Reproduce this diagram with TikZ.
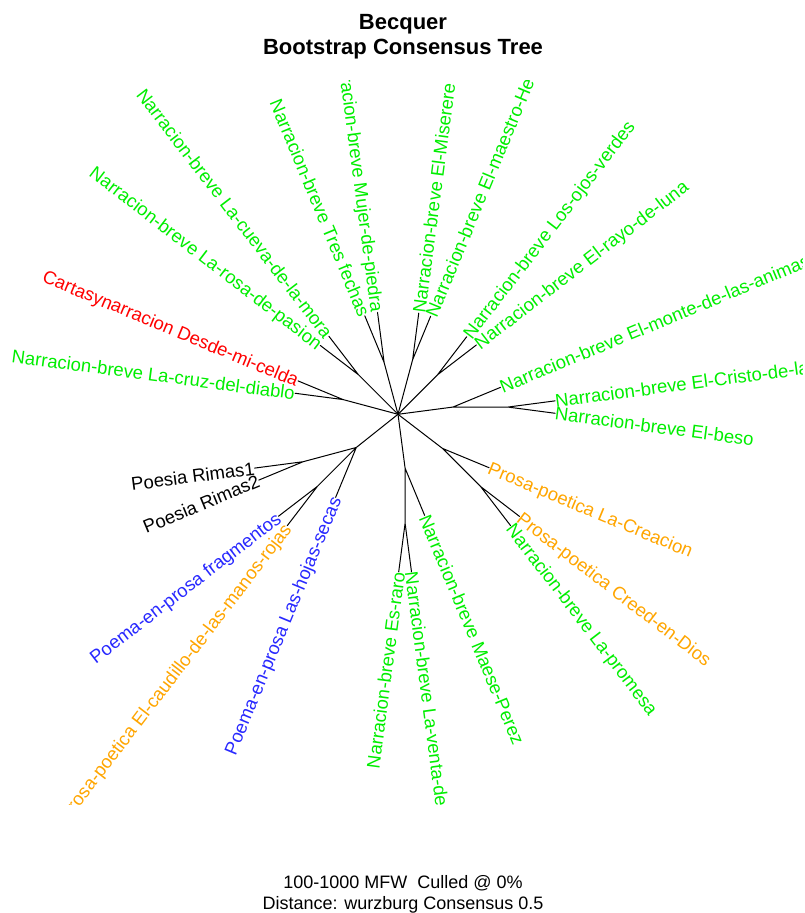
\documentclass[tikz,border=0pt]{standalone}
\usepackage{fontspec}
\setmainfont{Liberation Sans}
\usetikzlibrary{calc}
\definecolor{lgreen}{RGB}{0,238,0}
\definecolor{lblue}{RGB}{40,40,255}
\definecolor{lorange}{RGB}{255,165,0}
\definecolor{lred}{RGB}{255,0,0}
\newcommand\lblfont{\fontsize{18.46}{22}\selectfont}
\newcommand\ttlfont{\fontsize{22}{26}\selectfont\bfseries}
\newcommand\subfont{\fontsize{18}{22}\selectfont}
\begin{document}
\begin{tikzpicture}[x=1pt,y=1pt,
  edge/.style={line width=1pt, black, line cap=round},
  lbl/.style={inner sep=0pt, font=\lblfont, text height=13.2pt, text depth=0pt},
  lblR/.style={lbl, anchor=west},
  lblL/.style={lbl, anchor=east},
  ttl/.style={inner sep=0pt, font=\ttlfont, anchor=base},
  subt/.style={inner sep=0pt, font=\subfont, anchor=base}]
\useasboundingbox (0,0) rectangle (805,913);
% ---- tree coordinates ----
\coordinate (O) at (398,498.7);
\coordinate (nA) at ($(O)+(7.5:55.4)$);
\coordinate (tMonte) at ($(nA)+(22.5:51.5)$);
\coordinate (nAA) at ($(nA)+(0:55)$);
\coordinate (tCristo) at ($(nAA)+(7.5:47.6)$);
\coordinate (tBeso) at ($(nAA)+(-7.5:47.6)$);
\coordinate (nB) at ($(O)+(45:55.9)$);
\coordinate (tOjos) at ($(nB)+(52.5:48)$);
\coordinate (tRayo) at ($(nB)+(37.5:49)$);
\coordinate (nC) at ($(O)+(75:56.5)$);
\coordinate (tMaestro) at ($(nC)+(67.5:47)$);
\coordinate (tMiserere) at ($(nC)+(82.5:47)$);
\coordinate (nD) at ($(O)+(105:53.6)$);
\coordinate (tMujer) at ($(nD)+(97.5:50.5)$);
\coordinate (tTres) at ($(nD)+(112.5:50.5)$);
\coordinate (nE) at ($(O)+(135:56)$);
\coordinate (tCueva) at ($(nE)+(127.5:48.5)$);
\coordinate (tRosa) at ($(nE)+(142.5:48)$);
\coordinate (nF) at ($(O)+(165:56.8)$);
\coordinate (tCelda) at ($(nF)+(157.5:48.8)$);
\coordinate (tDiablo) at ($(nF)+(172.5:48.5)$);
\coordinate (nG) at ($(O)+(218.5:53.3)$);
\coordinate (nGR) at ($(nG)+(195:55)$);
\coordinate (tRimasA) at ($(nGR)+(187.5:49)$);
\coordinate (tRimasB) at ($(nGR)+(202.5:48)$);
\coordinate (nGF) at ($(nG)+(225:55)$);
\coordinate (tFrag) at ($(nGF)+(217.5:49)$);
\coordinate (tCaud) at ($(nGF)+(232.5:49.5)$);
\coordinate (tHojas) at ($(nG)+(247.5:54)$);
\coordinate (nH) at ($(O)+(277.5:54.4)$);
\coordinate (nHH) at ($(nH)+(270:55)$);
\coordinate (tRaro) at ($(nHH)+(262.5:49)$);
\coordinate (tVenta) at ($(nHH)+(277.5:49)$);
\coordinate (tMaese) at ($(nH)+(292.5:51)$);
\coordinate (nI) at ($(O)+(322.5:56)$);
\coordinate (tCreacion) at ($(nI)+(337.5:50.5)$);
\coordinate (nII) at ($(nI)+(315:54)$);
\coordinate (tCreed) at ($(nII)+(322.5:49)$);
\coordinate (tPromesa) at ($(nII)+(307.5:49)$);
% ---- edges ----
\draw[edge] (O) -- (nA) (nA) -- (tMonte) (nA) -- (nAA) (nAA) -- (tCristo) (nAA) -- (tBeso);
\draw[edge] (O) -- (nB) (nB) -- (tOjos) (nB) -- (tRayo);
\draw[edge] (O) -- (nC) (nC) -- (tMaestro) (nC) -- (tMiserere);
\draw[edge] (O) -- (nD) (nD) -- (tMujer) (nD) -- (tTres);
\draw[edge] (O) -- (nE) (nE) -- (tCueva) (nE) -- (tRosa);
\draw[edge] (O) -- (nF) (nF) -- (tCelda) (nF) -- (tDiablo);
\draw[edge] (O) -- (nG) (nG) -- (nGR) (nGR) -- (tRimasA) (nGR) -- (tRimasB)
  (nG) -- (nGF) (nGF) -- (tFrag) (nGF) -- (tCaud) (nG) -- (tHojas);
\draw[edge] (O) -- (nH) (nH) -- (nHH) (nHH) -- (tRaro) (nHH) -- (tVenta) (nH) -- (tMaese);
\draw[edge] (O) -- (nI) (nI) -- (tCreacion) (nI) -- (nII) (nII) -- (tCreed) (nII) -- (tPromesa);
% ---- labels ----
\begin{scope}
\clip (0,108) rectangle (802,832.5);
\node[lblR, text=lgreen, rotate=7.5] (LCristo) at (tCristo) {Narracion-breve El-Cristo-de-la};
\node[lblR, text=lgreen, rotate=-7.5] (LBeso) at (tBeso) {Narracion-breve El-beso};
\node[lblR, text=lgreen, rotate=22.5] (LMonte) at (tMonte) {Narracion-breve El-monte-de-las-animas};
\node[lblR, text=lgreen, rotate=37.5] (LRayo) at (tRayo) {Narracion-breve El-rayo-de-luna};
\node[lblR, text=lgreen, rotate=52.5] (LOjos) at (tOjos) {Narracion-breve Los-ojos-verdes};
\node[lblR, text=lgreen, rotate=67.5] (LMaestro) at (tMaestro) {Narracion-breve El-maestro-He.};
\node[lblR, text=lgreen, rotate=82.5] (LMiserere) at (tMiserere) {Narracion-breve El-Miserere};
\node[lblR, text=lgreen, rotate=-82.5] (LVenta) at (tVenta) {Narracion-breve La-venta-de};
\node[lblR, text=lgreen, rotate=-67.5] (LMaese) at (tMaese) {Narracion-breve Maese-Perez};
\node[lblR, text=lgreen, rotate=-52.5] (LPromesa) at (tPromesa) {Narracion-breve La-promesa};
\node[lblR, text=lorange, rotate=-37.5] (LCreed) at (tCreed) {Prosa-poetica Creed-en-Dios};
\node[lblR, text=lorange, rotate=-22.5] (LCreacion) at (tCreacion) {Prosa-poetica La-Creacion};
\node[lblL, text=lgreen, rotate=-82.5] (LMujer) at (tMujer) {Narracion-breve Mujer-de-piedra};
\node[lblL, text=lgreen, rotate=-67.5] (LTres) at (tTres) {Narracion-breve Tres fechas};
\node[lblL, text=lgreen, rotate=-52.5] (LCueva) at (tCueva) {Narracion-breve La-cueva-de-la-mora};
\node[lblL, text=lgreen, rotate=-37.5] (LRosa) at (tRosa) {Narracion-breve La-rosa-de-pasion};
\node[lblL, text=lred, rotate=-22.5] (LCelda) at (tCelda) {Cartasynarracion Desde-mi-celda};
\node[lblL, text=lgreen, rotate=-7.5] (LDiablo) at (tDiablo) {Narracion-breve La-cruz-del-diablo};
\node[lblL, text=black, rotate=7.5] (LRimasA) at (tRimasA) {Poesia Rimas1};
\node[lblL, text=black, rotate=22.5] (LRimasB) at (tRimasB) {Poesia Rimas2};
\node[lblL, text=lblue, rotate=37.5] (LFrag) at (tFrag) {Poema-en-prosa fragmentos};
\node[lblL, text=lorange, rotate=52.5] (LCaud) at (tCaud) {Prosa-poetica El-caudillo-de-las-manos-rojas};
\node[lblL, text=lblue, rotate=67.5] (LHojas) at (tHojas) {Poema-en-prosa Las-hojas-secas};
\node[lblL, text=lgreen, rotate=82.5] (LRaro) at (tRaro) {Narracion-breve Es-raro};
\end{scope}
% ---- titles ----
\node[ttl] (title1) at (403,883) {Becquer};
\node[ttl] (title2) at (403,858) {Bootstrap Consensus Tree};
\node[subt] (sub1) at (403,24) {100-1000 MFW\ \ Culled @ 0\%};
\node[subt] (sub2) at (403,3.5) {Distance: wurzburg Consensus 0.5};
\end{tikzpicture}
\end{document}
